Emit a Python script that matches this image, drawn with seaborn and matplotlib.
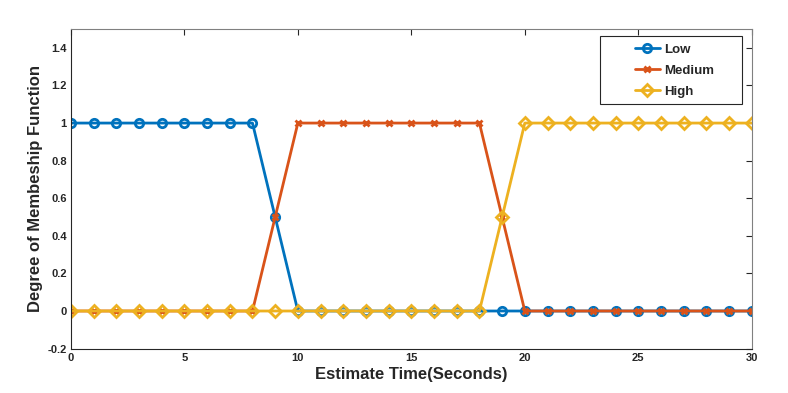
import matplotlib
matplotlib.use("Agg")
import matplotlib.pyplot as plt
from matplotlib.patches import Rectangle
import seaborn as sns
import numpy as np

x = list(range(31))
low = [1]*9 + [0.5] + [0]*21
medium = [0]*9 + [0.5] + [1]*9 + [0.5] + [0]*11
high = [0]*19 + [0.5] + [1]*11
xticks = [0, 5, 10, 15, 20, 25, 30]
yticks = [-0.2, 0, 0.2, 0.4, 0.6, 0.8, 1, 1.2, 1.4]
ytick_labels = ["-0.2", "0", "0.2", "0.4", "0.6", "0.8", "1", "1.2", "1.4"]

sns.set_theme(style="white")
plt.rcParams['font.family'] = ['Liberation Sans', 'DejaVu Sans']

fig = plt.figure(figsize=(7.88, 3.93), dpi=100)
ax = fig.add_axes([0.090, 0.113, 0.864, 0.813])

c_low, c_med, c_high = "#0072BD", "#D95319", "#EDB120"
sns.lineplot(x=x, y=low, ax=ax, color=c_low, lw=2, marker="o", markersize=6,
             markerfacecolor="none", markeredgecolor=c_low, markeredgewidth=2, label="Low")
sns.lineplot(x=x, y=medium, ax=ax, color=c_med, lw=2, marker="x", markersize=4.5,
             markeredgecolor=c_med, markeredgewidth=2, label="Medium")
sns.lineplot(x=x, y=high, ax=ax, color=c_high, lw=2, marker="D", markersize=6,
             markerfacecolor="none", markeredgecolor=c_high, markeredgewidth=2, label="High")

ax.set_xlim(0, 30)
ax.set_ylim(-0.2, 1.5)
ax.set_xticks(xticks)
ax.set_xticklabels([str(t) for t in xticks], fontweight="bold", fontsize=8)
ax.set_yticks(yticks)
ax.set_yticklabels(ytick_labels, fontweight="bold", fontsize=8)
ax.tick_params(axis="both", direction="in", length=4, width=0.8, colors="#262626",
               top=True, right=True, pad=3)
for s in ax.spines.values():
    s.set_color("#262626")
    s.set_linewidth(0.8)
ax.spines["top"].set_color("#808080")
ax.spines["right"].set_color("#808080")
ax.set_xlabel("Estimate Time(Seconds)", fontweight="bold", fontsize=12, labelpad=3)
ax.set_ylabel("Degree of Membeship Function", fontweight="bold", fontsize=12, labelpad=3)

# legend frame (MATLAB-style wide box)
ax.add_patch(Rectangle((0.777, 0.765), 0.208, 0.213, transform=ax.transAxes,
                       facecolor="white", edgecolor="#262626", lw=0.8, zorder=5))
leg = ax.legend(loc="upper left", bbox_to_anchor=(0.828, 0.955), frameon=False,
                prop={"weight": "bold", "size": 9.5}, handlelength=1.9,
                handletextpad=0.3, borderpad=0, borderaxespad=0, labelspacing=0.68)
leg.set_zorder(6)

fig.savefig("out.png", dpi=100, facecolor="white")
